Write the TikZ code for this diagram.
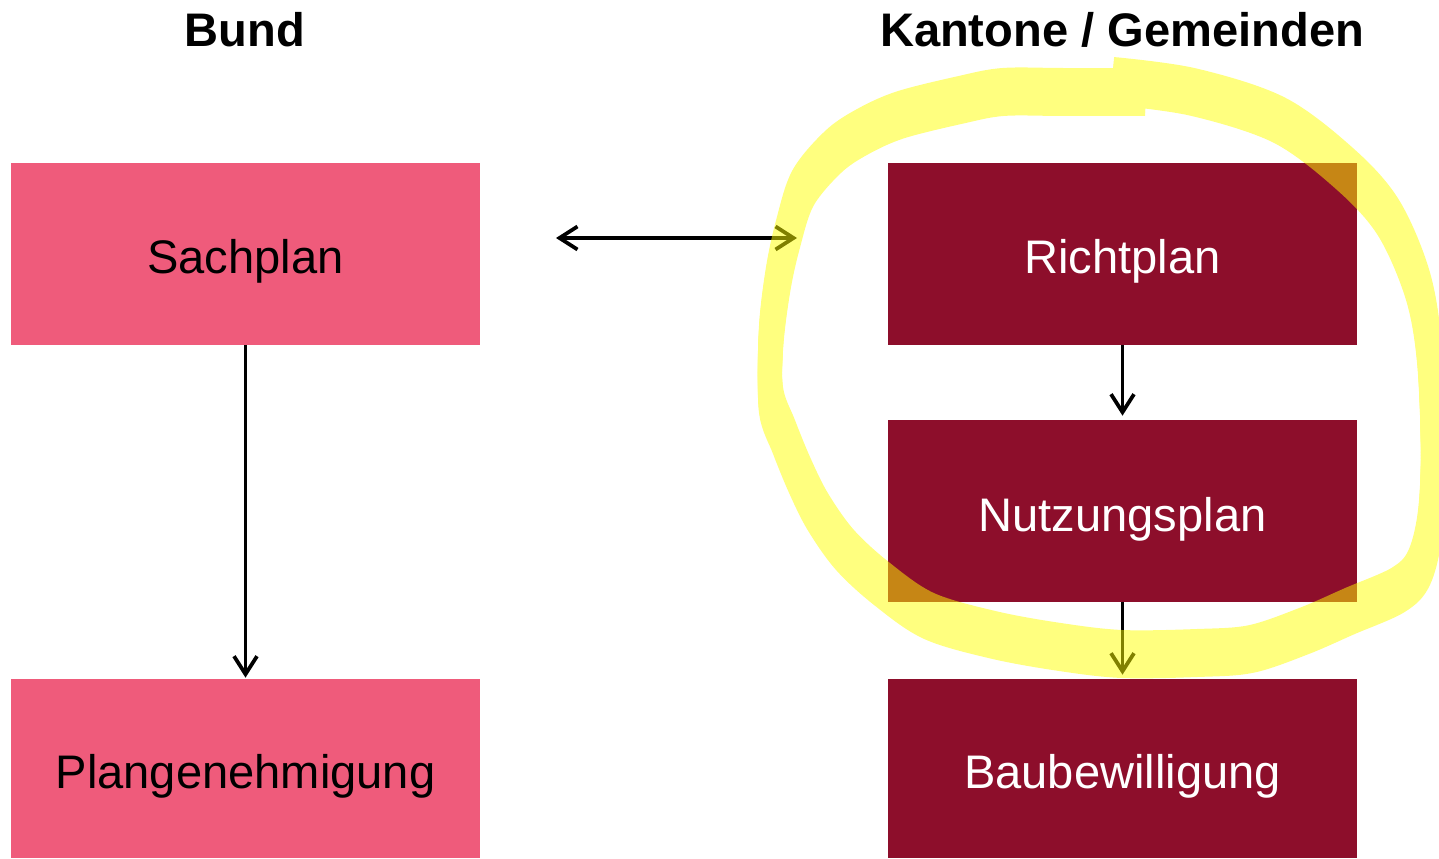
\documentclass[tikz,border=0pt]{standalone}
\usepackage{fontspec}
\setmainfont{Liberation Sans}
\usetikzlibrary{arrows.meta}
\definecolor{pinkbox}{RGB}{239,91,123}
\definecolor{redbox}{RGB}{141,14,43}
\definecolor{hl}{RGB}{255,255,0}
\begin{document}
\begin{tikzpicture}[x=0.02cm,y=-0.02cm,
  box/.style={rectangle, inner sep=0pt, minimum width=9.38cm, text height=0.8cm, text depth=0pt, font=\fontsize{26.8}{32}\selectfont},
  bundbox/.style={box, fill=pinkbox, text=black},
  kantbox/.style={box, fill=redbox, text=white},
  tall/.style={minimum height=3.64cm},
  low/.style={minimum height=3.58cm},
  head/.style={anchor=base, font=\fontsize{26.8}{32}\selectfont\bfseries},
  conn/.style={line width=0.075cm, -{Straight Barb[length=0.36cm,width=0.46cm]}},
  dconn/.style={line width=0.075cm, {Straight Barb[length=0.36cm,width=0.46cm]}-{Straight Barb[length=0.36cm,width=0.46cm]}},
  marker/.style={hl, line width=0.48cm, line cap=butt, line join=round}]
\useasboundingbox (0,0) rectangle (1439,858);
\fill[white] (0,0) rectangle (1439,858);
% headers
\node[head] (hbund) at (245,47) {Bund};
\node[head] (hkant) at (1122,47) {Kantone / Gemeinden};
% boxes
\node[bundbox, tall] (sach) at (245.5,254) {Sachplan};
\node[bundbox, low] (plan) at (245.5,768.5) {Plangenehmigung};
\node[kantbox, tall] (richt) at (1122.5,254) {Richtplan};
\node[kantbox, tall] (nutz) at (1122.5,511) {Nutzungsplan};
\node[kantbox, low] (baub) at (1122.5,768.5) {Baubewilligung};
% connectors
\draw[conn, shorten >=0.02cm] (sach) -- (plan);
\draw[conn, shorten >=0.08cm] (richt) -- (nutz);
\draw[conn, shorten >=0.08cm] (nutz) -- (baub);
\coordinate (dl) at (556,238);
\coordinate (dr) at (797,238);
\draw[dconn] (dl) -- (dr);
% highlighter loop
\begin{scope}[transparency group, opacity=0.5]
\foreach \d in {-12,-9,-6,-3,0,3,6,9,12}{
  \draw[marker, yshift={\d*0.02cm}] plot[smooth, tension=0.55] coordinates {
    (1113,81) (1193,92) (1279,120) (1345,169) (1388,217) (1417,283)
    (1429,350) (1433,450) (1430,523) (1419,568) (1398,590) (1350,611)
    (1304,631) (1251,649) (1197,653) (1122,654) (1060,647) (994,635)
    (929,616) (882,584) (845,550) (818,512) (800,476) (784,437)
    (771,400) (771,338) (778,280) (788,234) (803,188) (833,152)
    (862,132) (900,115) (960,100) (1003,92) (1063,92) (1145,92)};
}
\end{scope}
\end{tikzpicture}
\end{document}
